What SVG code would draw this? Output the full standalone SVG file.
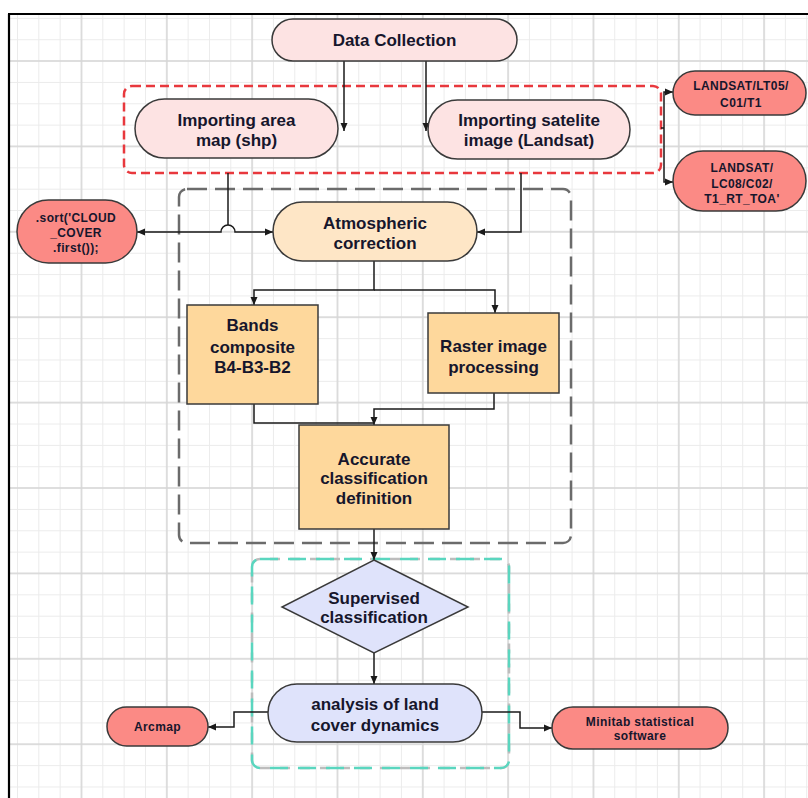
<svg xmlns="http://www.w3.org/2000/svg" width="808" height="798" viewBox="0 0 808 798">
<defs>
<style>
.node{stroke:#3a3a3a;stroke-width:1.5}
.pink{fill:#fde3e3}.peach{fill:#fee6c6}.orange{fill:#fed89c}.lav{fill:#dfe3fb}.salmon{fill:#fb8a85}
.t{font-family:"Liberation Sans",Arial,sans-serif;font-weight:bold;font-size:17px;fill:#16162c;text-anchor:middle}
.s{font-family:"Liberation Sans",Arial,sans-serif;font-weight:bold;font-size:12px;fill:#16162c;text-anchor:middle;letter-spacing:0.4px}
.c{fill:none;stroke:#1a1a1a;stroke-width:1.5}
.a{marker-end:url(#arr)}
</style>
<marker id="arr" viewBox="0 0 8 8" refX="8" refY="4" markerWidth="8" markerHeight="8" markerUnits="userSpaceOnUse" orient="auto-start-reverse">
<path d="M0,0.5 L8,4 L0,7.5 z" fill="#1a1a1a"/>
</marker>
<pattern id="minor" patternUnits="userSpaceOnUse" x="17" y="17.9" width="21.33" height="21.35">
<path d="M0.5,0 V21.35 M0,0.5 H21.33" stroke="#ebebeb" stroke-width="1" fill="none"/>
</pattern>
<pattern id="major" patternUnits="userSpaceOnUse" x="80.5" y="60" width="85.33" height="85.4">
<path d="M1,0 V85.4 M0,1 H85.33" stroke="#d6d6d6" stroke-width="1.5" fill="none"/>
</pattern>
</defs>
<rect x="0" y="0" width="808" height="798" fill="#ffffff"/>
<rect x="10" y="15" width="798" height="783" fill="url(#minor)"/>
<rect x="10" y="15" width="798" height="783" fill="url(#major)"/>
<path d="M8,14 H808 M9,14 V798" stroke="#000" stroke-width="2.2" fill="none"/>

<g id="groups">
<rect id="group-import" x="124" y="86" width="537" height="87" rx="8" fill="none" stroke="#e8383d" stroke-width="2.5" stroke-dasharray="9 5"/>
<rect id="group-process" x="179" y="189" width="392" height="354" rx="8" fill="none" stroke="#6b6b6b" stroke-width="2.5" stroke-dasharray="20 8"/>
<g id="group-classify">
<rect x="252" y="559" width="257" height="209" rx="8" fill="none" stroke="#bdbdbd" stroke-width="2.5" stroke-dasharray="10 10" stroke-dashoffset="10"/>
<rect x="252" y="559" width="257" height="209" rx="8" fill="none" stroke="#5ad6bf" stroke-width="2.5" stroke-dasharray="18 10"/>
</g>
</g>

<g id="connectors">
<path class="c a" d="M344,61 V131"/>
<path class="c a" d="M426,61 V131"/>
<path class="c" d="M661,128 H664"/>
<path class="c a" d="M664,128 V92 H673"/>
<path class="c a" d="M664,128 V182 H673"/>
<path class="c" d="M228,173 V225"/>
<path class="c" d="M137,232 H221 A7,7 0 0 1 235,232 H273" marker-start="url(#arr)" marker-end="url(#arr)"/>
<path class="c a" d="M521,173 V232 H477"/>
<path class="c a" d="M374,261 V290 H254 V305"/>
<path class="c a" d="M374,290 H495 V313"/>
<path class="c" d="M254,404 V423 H374"/>
<path class="c a" d="M494,393 V409 H374 V425"/>
<path class="c a" d="M374,529 V560"/>
<path class="c a" d="M374,653 V684"/>
<path class="c a" d="M268,712 H234 V727 H208"/>
<path class="c a" d="M482,712 H520 V728 H552"/>
</g>

<g id="data-collection">
<rect class="node pink" x="272" y="19" width="245" height="42" rx="21"/>
<text class="t" x="394.5" y="46">Data Collection</text>
</g>
<g id="importing-area-map">
<rect class="node pink" x="135" y="99" width="203" height="59" rx="29.5"/>
<text class="t" x="236.5" y="126">Importing area</text>
<text class="t" x="236.5" y="146">map (shp)</text>
</g>
<g id="importing-satellite">
<rect class="node pink" x="428" y="100" width="202" height="59" rx="29.5"/>
<text class="t" x="529" y="126">Importing satelite</text>
<text class="t" x="529" y="146">image (Landsat)</text>
</g>
<g id="landsat-lt05">
<rect class="node salmon" x="673" y="71" width="133" height="44" rx="22"/>
<text class="s" x="741" y="90">LANDSAT/LT05/</text>
<text class="s" x="741" y="107">C01/T1</text>
</g>
<g id="landsat-lc08">
<rect class="node salmon" x="673" y="151" width="133" height="60" rx="30"/>
<text class="s" x="742" y="172">LANDSAT/</text>
<text class="s" x="742" y="188">LC08/C02/</text>
<text class="s" x="742" y="203">T1_RT_TOA'</text>
</g>
<g id="sort-cloud">
<rect class="node salmon" x="17" y="200" width="120" height="63" rx="31.5"/>
<text class="s" x="76" y="222">.sort('CLOUD</text>
<text class="s" x="76" y="237">_COVER</text>
<text class="s" x="76" y="252">.first());</text>
</g>
<g id="atmospheric-correction">
<rect class="node peach" x="273" y="202" width="204" height="59" rx="29.5"/>
<text class="t" x="375" y="229">Atmospheric</text>
<text class="t" x="375" y="249">correction</text>
</g>
<g id="bands-composite">
<rect class="node orange" x="187" y="305" width="131" height="99"/>
<text class="t" x="252.5" y="331">Bands</text>
<text class="t" x="252.5" y="353">composite</text>
<text class="t" x="252.5" y="373">B4-B3-B2</text>
</g>
<g id="raster-image-processing">
<rect class="node orange" x="428" y="313" width="131" height="80"/>
<text class="t" x="493.5" y="352">Raster image</text>
<text class="t" x="493.5" y="373">processing</text>
</g>
<g id="accurate-classification">
<rect class="node orange" x="299" y="425" width="150" height="104"/>
<text class="t" x="374" y="465">Accurate</text>
<text class="t" x="374" y="484">classification</text>
<text class="t" x="374" y="504">definition</text>
</g>
<g id="supervised-classification">
<polygon class="node lav" points="374,560 468,607 374,653 282,607"/>
<text class="t" x="374" y="604">Supervised</text>
<text class="t" x="374" y="623">classification</text>
</g>
<g id="analysis-land-cover">
<rect class="node lav" x="268" y="684" width="214" height="58" rx="29"/>
<text class="t" x="375" y="710">analysis of land</text>
<text class="t" x="375" y="731">cover dynamics</text>
</g>
<g id="arcmap">
<rect class="node salmon" x="107" y="707" width="101" height="39" rx="19.5"/>
<text class="s" x="157.5" y="731">Arcmap</text>
</g>
<g id="minitab">
<rect class="node salmon" x="552" y="707" width="176" height="42" rx="21"/>
<text class="s" x="640" y="726">Minitab statistical</text>
<text class="s" x="640" y="740">software</text>
</g>
</svg>
